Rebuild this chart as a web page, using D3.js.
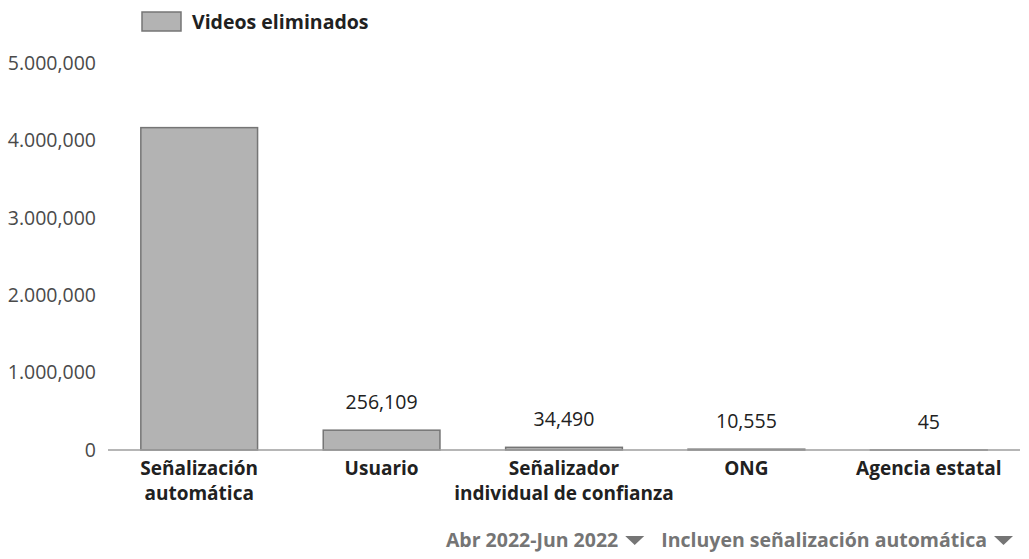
<!DOCTYPE html>
<html>
<head>
<meta charset="utf-8">
<script src="https://cdn.jsdelivr.net/npm/d3@7"></script>
<style>
  html, body { margin: 0; padding: 0; background: #fff; }
  svg { display: block; font-family: 'Open Sans', sans-serif; }
</style>
</head>
<body>
<div class="chart"></div>
<script>
// data
const categories = [
  ['Señalización', 'automática'],
  ['Usuario'],
  ['Señalizador', 'individual de confianza'],
  ['ONG'],
  ['Agencia estatal']
];
const removedVideos = [4165000, 256109, 34490, 10555, 45];
const valueLabels = ['', '256,109', '34,490', '10,555', '45'];
const yTicks = [0, 1000000, 2000000, 3000000, 4000000, 5000000];
const yTickLabels = ['0', '1.000,000', '2.000,000', '3.000,000', '4.000,000', '5.000,000'];
const legendLabel = 'Videos eliminados';
const filters = ['Abr 2022-Jun 2022', 'Incluyen señalización automática'];

const width = 1029;
const height = 559;
const margin = { top: 63, right: 9, bottom: 109, left: 108 };

const svg = d3.select('.chart')
  .append('svg')
    .attr('width', width)
    .attr('height', height);

const xScale = d3.scaleBand()
  .domain(d3.range(categories.length))
  .range([margin.left, width - margin.right])
  .paddingInner(0.36)
  .paddingOuter(0.18);

const yScale = d3.scaleLinear()
  .domain([0, 5000000])
  .range([height - margin.bottom, margin.top]);

// y axis: labels only
const yAxis = svg.append('g')
  .attr('transform', `translate(${margin.left - 12}, 0)`)
  .call(d3.axisLeft(yScale)
    .tickValues(yTicks)
    .tickSize(0)
    .tickPadding(0)
    .tickFormat((d, i) => yTickLabels[i]));
yAxis.select('.domain').remove();
yAxis.selectAll('text')
  .attr('font-family', "'Open Sans', sans-serif")
  .attr('font-size', 19.5)
  .attr('fill', '#4a4a4a');

// bars
svg.selectAll('.bar')
  .data(removedVideos)
  .enter()
  .append('rect')
    .attr('class', 'bar')
    .attr('x', (d, i) => xScale(i))
    .attr('y', d => yScale(d))
    .attr('width', xScale.bandwidth())
    .attr('height', d => yScale(0) - yScale(d))
    .attr('fill', '#b3b3b3')
    .attr('stroke', '#757575')
    .attr('stroke-width', 1.5);

// baseline
svg.append('line')
  .attr('x1', margin.left)
  .attr('x2', width - margin.right)
  .attr('y1', yScale(0))
  .attr('y2', yScale(0))
  .attr('stroke', '#9e9e9e')
  .attr('stroke-width', 1.5);

// value labels
svg.selectAll('.value')
  .data(removedVideos)
  .enter()
  .append('text')
    .attr('class', 'value')
    .attr('x', (d, i) => xScale(i) + xScale.bandwidth() / 2)
    .attr('y', d => yScale(d) - 21)
    .attr('text-anchor', 'middle')
    .attr('font-size', 19.5)
    .attr('fill', '#212121')
    .text((d, i) => valueLabels[i]);

// category labels, one text per line
svg.selectAll('.cat')
  .data(categories.flatMap((lines, i) => lines.map((line, j) => ({ i, j, line }))))
  .enter()
  .append('text')
    .attr('class', 'cat')
    .attr('x', d => xScale(d.i) + xScale.bandwidth() / 2)
    .attr('y', d => yScale(0) + 25 + d.j * 24.5)
    .attr('text-anchor', 'middle')
    .attr('font-size', 19)
    .attr('font-weight', 'bold')
    .attr('fill', '#212121')
    .text(d => d.line);

// legend
const legend = svg.append('g')
  .attr('transform', 'translate(142, 12)');
legend.append('rect')
  .attr('width', 39)
  .attr('height', 19)
  .attr('fill', '#b3b3b3')
  .attr('stroke', '#757575')
  .attr('stroke-width', 1.5);
legend.append('text')
  .attr('x', 50)
  .attr('y', 17)
  .attr('font-size', 19.5)
  .attr('font-weight', 'bold')
  .attr('fill', '#212121')
  .text(legendLabel);

// filter dropdowns, right aligned
const filterG = svg.append('g');
let cursor = 1013;
for (let i = filters.length - 1; i >= 0; i--) {
  filterG.append('path')
    .attr('d', d3.line()([[cursor - 19, 536], [cursor, 536], [cursor - 9.5, 545]]) + 'Z')
    .attr('fill', '#757575');
  const t = filterG.append('text')
    .attr('x', cursor - 26)
    .attr('y', 547)
    .attr('text-anchor', 'end')
    .attr('font-size', 19.5)
    .attr('font-weight', 'bold')
    .attr('fill', '#757575')
    .text(filters[i]);
  const w = t.node().getComputedTextLength();
  cursor = cursor - 26 - w - 17;
}
</script>
</body>
</html>
